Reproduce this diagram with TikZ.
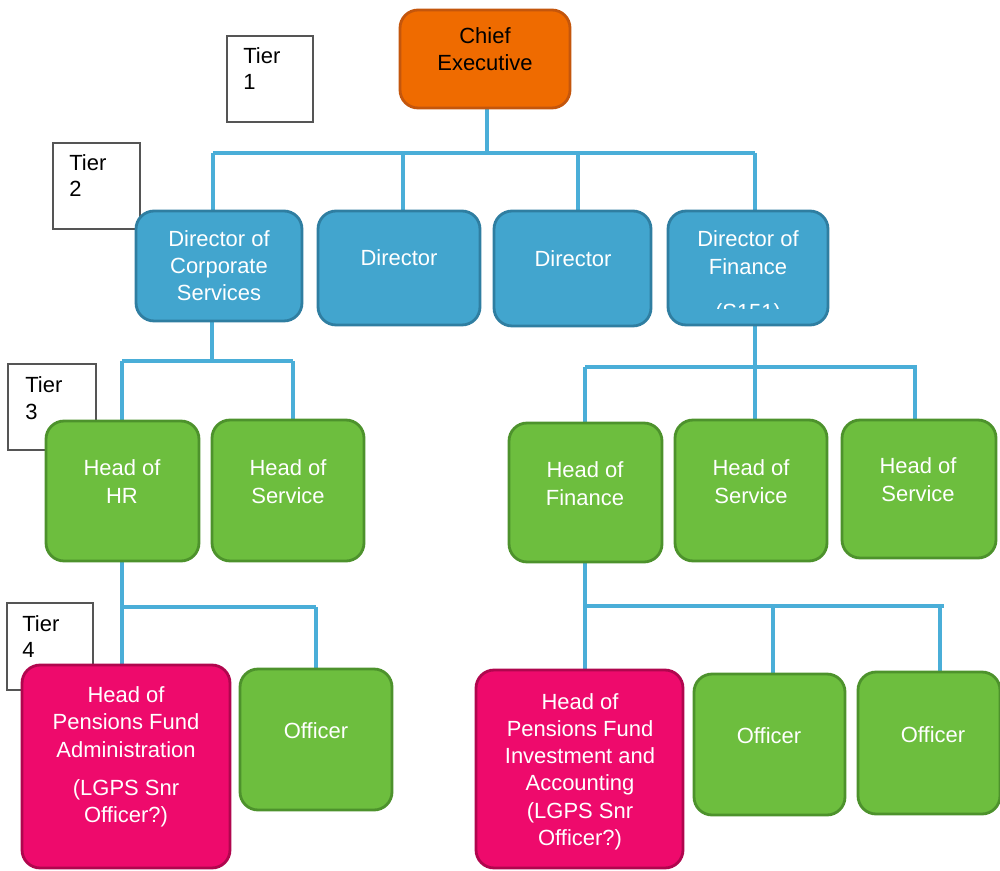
\documentclass[tikz,border=0pt]{standalone}
\usepackage{fontspec}
\setmainfont{Liberation Sans}
\usetikzlibrary{backgrounds}
\definecolor{cblue}{HTML}{42A5CE}
\definecolor{cblueD}{HTML}{2F7EA1}
\definecolor{cgreen}{HTML}{6DBE3E}
\definecolor{cgreenD}{HTML}{4D922C}
\definecolor{cpink}{HTML}{EE0A6C}
\definecolor{cpinkD}{HTML}{B0064E}
\definecolor{corange}{HTML}{EF6B00}
\definecolor{corangeD}{HTML}{C4560C}
\definecolor{cline}{HTML}{4AAED8}
\definecolor{tierD}{HTML}{555555}
\begin{document}
\begin{tikzpicture}[x=0.02cm,y=-0.02cm,
  box/.style={rounded corners=0.36cm, line width=1.6pt, inner sep=0pt},
  bluebox/.style={box, fill=cblue, draw=cblueD},
  greenbox/.style={box, fill=cgreen, draw=cgreenD},
  pinkbox/.style={box, fill=cpink, draw=cpinkD},
  orangebox/.style={box, fill=corange, draw=corangeD},
  txt/.style={text=white, align=center, anchor=base, inner sep=0pt, font=\fontsize{12.5}{15.37}\selectfont},
  tier/.style={draw=tierD, line width=0.8pt, fill=white, inner sep=0pt},
  tiertxt/.style={align=left, anchor=base west, inner sep=0pt, text=black, font=\fontsize{12.5}{14.8}\selectfont},
  conn/.style={draw=cline, line width=2.2pt}]
\useasboundingbox (0,0) rectangle (1000,871);

% tier labels (text anchored at the baseline of its last line)
\node[tier, minimum width=1.72cm, minimum height=1.72cm] (tier1) at (270,79) {};
\node[tiertxt] (tier1t) at (243,90) {Tier\\1};
\node[tier, minimum width=1.74cm, minimum height=1.72cm] (tier2) at (96.5,186) {};
\node[tiertxt] (tier2t) at (69,197) {Tier\\2};
\node[tier, minimum width=1.76cm, minimum height=1.72cm] (tier3) at (52,407) {};
\node[tiertxt] (tier3t) at (25,419) {Tier\\3};
\node[tier, minimum width=1.72cm, minimum height=1.74cm] (tier4) at (50,646.5) {};
\node[tiertxt] (tier4t) at (22,657) {Tier\\4};

% tier 1
\node[orangebox, minimum width=3.4cm, minimum height=1.96cm] (ce) at (485,59) {};
\node[txt, text=black] (cet) at (485,71) {Chief\\Executive};

% tier 2
\node[bluebox, minimum width=3.32cm, minimum height=2.2cm] (dcs) at (219,266) {};
\node[txt] (dcst) at (219,301) {Director of\\Corporate\\Services};
\node[bluebox, minimum width=3.24cm, minimum height=2.28cm] (d2) at (399,268) {};
\node[txt] (d2t) at (399,266) {Director};
\node[bluebox, minimum width=3.14cm, minimum height=2.3cm] (d3) at (572.5,268.5) {};
\node[txt] (d3t) at (573,267) {Director};
\node[bluebox, minimum width=3.2cm, minimum height=2.28cm] (dof) at (748,268) {};
\begin{scope}
  \clip (668,211) rectangle (828,309);
  \node[txt] (doft) at (748,319) {Director of\\Finance\\[0.36cm](S151)};
\end{scope}

% tier 3
\node[greenbox, minimum width=3.06cm, minimum height=2.8cm] (hr) at (122.5,491) {};
\node[txt] (hrt) at (122,503) {Head of\\HR};
\node[greenbox, minimum width=3.04cm, minimum height=2.82cm] (hs1) at (288,490.5) {};
\node[txt] (hs1t) at (288,503) {Head of\\Service};
\node[greenbox, minimum width=3.06cm, minimum height=2.78cm] (hf) at (585.5,492.5) {};
\node[txt] (hft) at (585,505) {Head of\\Finance};
\node[greenbox, minimum width=3.04cm, minimum height=2.82cm] (hs2) at (751,490.5) {};
\node[txt] (hs2t) at (751,503) {Head of\\Service};
\node[greenbox, minimum width=3.08cm, minimum height=2.76cm] (hs3) at (919,489) {};
\node[txt] (hs3t) at (918,501) {Head of\\Service};

% tier 4
\node[pinkbox, minimum width=4.16cm, minimum height=4.06cm] (hpa) at (126,766.5) {};
\node[txt] (hpat) at (126,822) {Head of\\Pensions Fund\\Administration\\[0.22cm](LGPS Snr\\Officer?)};
\node[greenbox, minimum width=3.04cm, minimum height=2.82cm] (off1) at (316,739.5) {};
\node[txt] (off1t) at (316,738) {Officer};
\node[pinkbox, minimum width=4.14cm, minimum height=3.96cm] (hpi) at (579.5,769) {};
\node[txt] (hpit) at (580,845) {Head of\\Pensions Fund\\Investment and\\Accounting\\(LGPS Snr\\Officer?)};
\node[greenbox, minimum width=3.02cm, minimum height=2.82cm] (off2) at (769.5,744.5) {};
\node[txt] (off2t) at (769,743) {Officer};
\node[greenbox, minimum width=2.84cm, minimum height=2.84cm] (off3) at (929,743) {};
\node[txt] (off3t) at (933,742) {Officer};

% junction coordinates
\coordinate (b1a) at (213,153);
\coordinate (b1b) at (403,153);
\coordinate (b1c) at (578,153);
\coordinate (b1d) at (755,153);
\coordinate (b1e) at (487,153);
\coordinate (b2m) at (212,361);
\coordinate (b2a) at (122,361);
\coordinate (b2b) at (293,361);
\coordinate (b3m) at (755,367);
\coordinate (b3a) at (585,367);
\coordinate (b3b) at (915,367);
\coordinate (b3e) at (917,367);
\coordinate (b4a) at (122,607);
\coordinate (b4b) at (316,607);
\coordinate (b5a) at (585,606);
\coordinate (b5b) at (773,606);
\coordinate (b5c) at (940,606);
\coordinate (b5e) at (944,606);

\begin{scope}[on background layer]
  % tier 1 -> tier 2
  \draw[conn] (b1e |- ce.south) -- (b1e);
  \draw[conn] (b1a) -- (b1d);
  \draw[conn] (b1a) -- (b1a |- dcs.north);
  \draw[conn] (b1b) -- (b1b |- d2.north);
  \draw[conn] (b1c) -- (b1c |- d3.north);
  \draw[conn] (b1d) -- (b1d |- dof.north);
  % corporate services -> tier 3
  \draw[conn] (b2m |- dcs.south) -- (b2m);
  \draw[conn] (b2a) -- (b2b);
  \draw[conn] (b2a) -- (b2a |- hr.north);
  \draw[conn] (b2b) -- (b2b |- hs1.north);
  % finance -> tier 3
  \draw[conn] (b3m |- dof.south) -- (b3m);
  \draw[conn] (b3a) -- (b3e);
  \draw[conn] (b3a) -- (b3a |- hf.north);
  \draw[conn] (b3m) -- (b3m |- hs2.north);
  \draw[conn] (b3b) -- (b3b |- hs3.north);
  % HR -> tier 4
  \draw[conn] (b4a |- hr.south) -- (b4a);
  \draw[conn] (b4a) -- (b4b);
  \draw[conn] (b4a) -- (b4a |- hpa.north);
  \draw[conn] (b4b) -- (b4b |- off1.north);
  % finance head -> tier 4
  \draw[conn] (b5a |- hf.south) -- (b5a);
  \draw[conn] (b5a) -- (b5e);
  \draw[conn] (b5a) -- (b5a |- hpi.north);
  \draw[conn] (b5b) -- (b5b |- off2.north);
  \draw[conn] (b5c) -- (b5c |- off3.north);
\end{scope}
\end{tikzpicture}
\end{document}
